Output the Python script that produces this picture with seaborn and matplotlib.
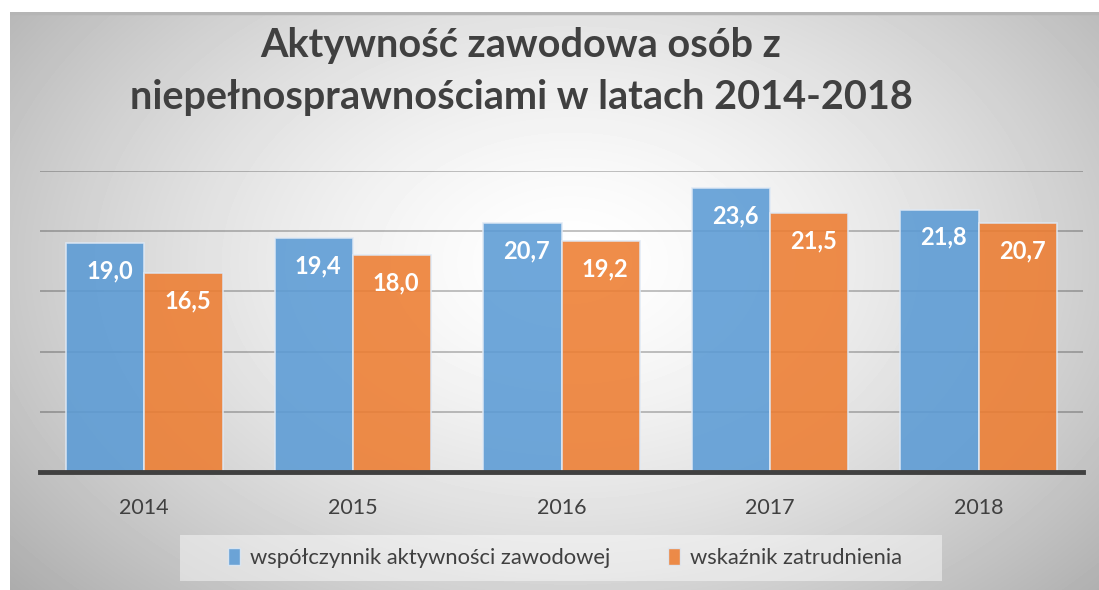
import numpy as np
import pandas as pd
import matplotlib
matplotlib.use("Agg")
import matplotlib.pyplot as plt
from matplotlib.patches import Rectangle, Patch
import seaborn as sns

years = ["2014", "2015", "2016", "2017", "2018"]
activity_rate = [19.0, 19.4, 20.7, 23.6, 21.8]
employment_rate = [16.5, 18.0, 19.2, 21.5, 20.7]
series_names = ["współczynnik aktywności zawodowej", "wskaźnik zatrudnienia"]
colors = ["#5b9bd5", "#ed7d31"]

df = pd.DataFrame({
    "rok": years * 2,
    "wartość": activity_rate + employment_rate,
    "seria": [series_names[0]] * len(years) + [series_names[1]] * len(years),
})

sns.set_theme(style="white")
plt.rcParams["font.family"] = ["Lato", "DejaVu Sans"]

W, H = 1099, 590
fig = plt.figure(figsize=(W / 100, H / 100), dpi=100)
fig.patch.set_facecolor("white")

# radial grey gradient background of the chart area
bg = fig.add_axes([10 / W, 0, 1 - 10 / W, 1 - 12 / H], zorder=-10)
yy, xx = np.mgrid[0:578, 0:1089]
r = np.sqrt(((xx - 560) / 620) ** 2 + ((yy - 250) / 420) ** 2)
shade = 1.0 - 0.25 * np.clip(r, 0, 1.2) ** 1.5
bg.imshow(shade, cmap="gray", vmin=0, vmax=1, aspect="auto", interpolation="bilinear")
bg.axhline(0, color="#b5b5b5", lw=2.5)
bg.set_axis_off()

ax = fig.add_axes([40 / W, 118 / H, 1043 / W, 301 / H])
ax.patch.set_alpha(0)
sns.barplot(data=df, x="rok", y="wartość", hue="seria", palette=colors,
            saturation=1, width=0.75, alpha=0.88, edgecolor="#dfe9f5", linewidth=1.2,
            legend=False, ax=ax, zorder=3)

ax.set_ylim(0, 25)
ax.set_xlim(-0.5, 4.5)
ax.set_yticks([5, 10, 15, 20, 25])
ax.yaxis.grid(True, color="black", alpha=0.28, lw=1.2, zorder=0)
ax.set_axisbelow(True)
ax.tick_params(axis="y", left=False, labelleft=False)
ax.tick_params(axis="x", bottom=False, labelsize=15.5, colors="#404040", pad=13)
ax.set_xlabel("")
ax.set_ylabel("")
for s in ["left", "right", "top"]:
    ax.spines[s].set_visible(False)
ax.spines["bottom"].set_color("#404040")
ax.spines["bottom"].set_linewidth(3.5)
ax.spines["bottom"].set_zorder(5)

for container in ax.containers:
    for bar in container:
        h = bar.get_height()
        ax.text(bar.get_x() + bar.get_width() / 2 + 0.02, h - 2.3,
                f"{h:.1f}".replace(".", ","), ha="center", va="center",
                color="white", fontsize=17, fontweight="bold", zorder=6)

fig.text(521 / W, 1 - 45 / H, "Aktywność zawodowa osób z", ha="center", va="center",
         fontsize=28.5, fontweight="bold", color="#404040")
fig.text(521 / W, 1 - 98 / H, "niepełnosprawnościami w latach 2014-2018", ha="center",
         va="center", fontsize=28.5, fontweight="bold", color="#404040")

# legend box
fig.patches.append(Rectangle((180 / W, 1 - 581 / H), 762 / W, 46 / H,
                             transform=fig.transFigure, facecolor="white",
                             alpha=0.45, edgecolor="none", zorder=1))
handles = [Patch(facecolor=c, edgecolor="#dfe9f5", alpha=0.88) for c in colors]
fig.legend(handles, series_names, loc="center", bbox_to_anchor=(565 / W, 1 - 558 / H),
           ncol=2, frameon=False, fontsize=15.8, labelcolor="#404040",
           handlelength=0.55, handleheight=0.8, handletextpad=0.45, columnspacing=2.6)

fig.savefig("out.png", dpi=100)
